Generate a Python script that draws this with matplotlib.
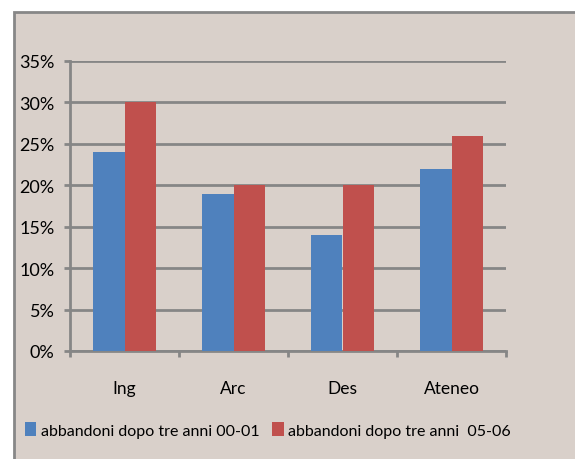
import matplotlib
matplotlib.use("Agg")
import matplotlib.pyplot as plt
from matplotlib.patches import Rectangle, Patch
from matplotlib.ticker import FuncFormatter, MultipleLocator
import numpy as np

categories = ["Ing", "Arc", "Des", "Ateneo"]
series_names = ["abbandoni dopo tre anni 00-01", "abbandoni dopo tre anni  05-06"]
values_0001 = [0.24, 0.19, 0.14, 0.22]
values_0506 = [0.30, 0.20, 0.20, 0.26]
colors = ["#4F81BD", "#C0504D"]

plt.rcParams['font.family'] = ['Lato', 'DejaVu Sans']

fig = plt.figure(figsize=(5.75, 4.6), dpi=100)
fig.patch.set_facecolor("white")
bg = Rectangle((14/575, -0.01), 1.0, 1 - 13/460 + 0.01, transform=fig.transFigure,
               facecolor="#D9D0CA", edgecolor="#878787", lw=2, zorder=-5)
fig.patches.append(bg)

ax = fig.add_axes([70/575, 1 - 352/460, (506 - 70)/575, (352 - 62)/460])
ax.set_facecolor("none")

x = np.arange(len(categories))
w = 0.285
ax.bar(x - w/2, values_0001, w, color=colors[0], zorder=3)
ax.bar(x + w/2, values_0506, w, color=colors[1], zorder=3)

ax.set_xlim(-0.5, len(categories) - 0.5)
ax.set_ylim(0, 0.35)
ax.yaxis.set_major_locator(MultipleLocator(0.05))
ax.yaxis.set_major_formatter(FuncFormatter(lambda v, p: f"{round(v*100)}%"))
ax.grid(axis="y", color="#868686", lw=2, zorder=1)
ax.set_axisbelow(True)

ax.set_xticks(x)
ax.set_xticklabels(categories)
ax.set_xticks(np.arange(-0.5, len(categories), 1.0), minor=True)
ax.tick_params(axis="x", which="major", length=0, pad=21, labelsize=12.5)
ax.tick_params(axis="x", which="minor", length=4, width=2, color="#868686", direction="out")
ax.tick_params(axis="y", which="major", length=4, width=2, color="#868686", pad=7, labelsize=13)

for s in ["top", "right"]:
    ax.spines[s].set_visible(False)
for s in ["left", "bottom"]:
    ax.spines[s].set_color("#868686")
    ax.spines[s].set_linewidth(2)

handles = [Patch(facecolor=colors[0]), Patch(facecolor=colors[1])]
fig.legend(handles, series_names, loc="center", bbox_to_anchor=(268/575, 1 - 431/460),
           ncol=2, frameon=False, fontsize=11.5, handlelength=0.7, handleheight=0.9,
           handletextpad=0.3, columnspacing=0.8)

fig.savefig("out.png", dpi=100)
